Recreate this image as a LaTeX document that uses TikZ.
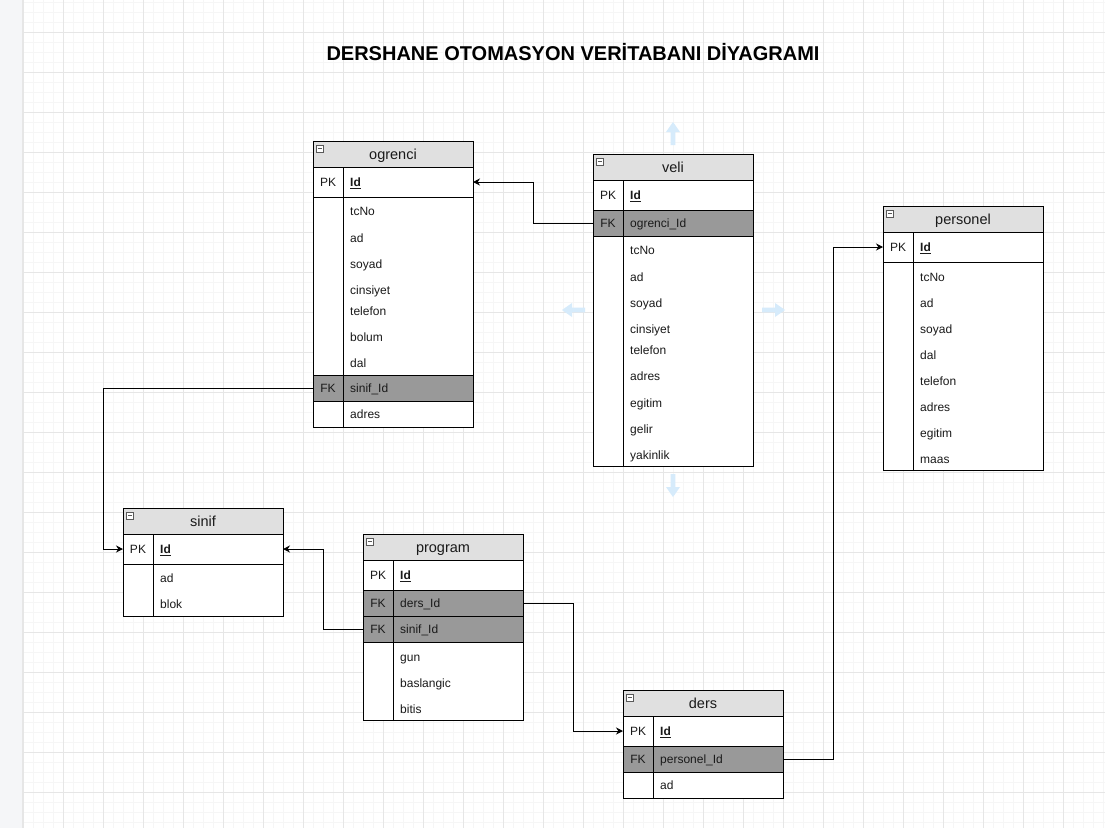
\documentclass[tikz,border=0pt]{standalone}
\usepackage{fontspec}
\setmainfont{Liberation Sans}
\usetikzlibrary{arrows.meta}
\definecolor{hdrgrey}{HTML}{E0E0E0}
\definecolor{fkgrey}{HTML}{999999}
\definecolor{gridminor}{HTML}{F6F6F6}
\definecolor{gridmajor}{HTML}{E6E6E6}
\definecolor{sidebar}{HTML}{F5F6F8}
\definecolor{ghost}{HTML}{D6EBFB}
\definecolor{txt}{HTML}{1A1A1A}
\tikzset{
  tblline/.style={draw=black, line width=1pt},
  hdrbox/.style={tblline, fill=hdrgrey, anchor=north west, minimum width=160pt, minimum height=26pt, inner sep=0pt, outer sep=0pt},
  rowbox/.style={tblline, anchor=north west, minimum width=160pt, inner sep=0pt, outer sep=0pt},
  hdrtext/.style={font=\fontsize{14.5}{16}\selectfont, text=txt, inner sep=0pt, anchor=base},
  keytext/.style={font=\fontsize{12}{14}\selectfont, text=txt, inner sep=0pt},
  fieldtext/.style={font=\fontsize{12}{14}\selectfont, text=txt, inner sep=0pt, anchor=base west},
  iconbox/.style={draw=black!65, fill=white, line width=0.6pt, minimum size=7pt, inner sep=0pt,
    path picture={\draw[line width=0.8pt] ([xshift=1.4pt]path picture bounding box.west) -- ([xshift=-1.4pt]path picture bounding box.east);}},
  conn/.style={draw=black, line width=1pt, -{Stealth[length=7pt,width=7pt]}},
  ghostarrow/.style={fill=ghost, draw=none},
  minorline/.style={draw=gridminor, line width=0.8pt},
  majorline/.style={draw=gridmajor, line width=0.8pt},
}
% name, x, y, title
\newcommand\tblHead[4]{%
  \node[hdrbox] (#1) at (#2,#3) {};
  \node[hdrtext] (#1-title) at ([yshift=-5pt]#1.center) {#4};
  \node[iconbox] (#1-icon) at (#2+7,#3+7.5) {};
}
% name, x, top, height, fill, key
\newcommand\tblRow[6]{%
  \node[rowbox, minimum height=#4pt, fill=#5] (#1) at (#2,#3) {};
  \node[keytext] (#1-key) at ([xshift=15pt]#1.west) {#6};
}
% name, x, top, height
\newcommand\tblBlock[4]{%
  \node[rowbox, minimum height=#4pt, fill=white] (#1) at (#2,#3) {};
}
% name, table x, y centre, text
\newcommand\fld[4]{%
  \node[fieldtext] (#1) at (#2+37,#3+4.3) {#4};
}
\newcommand\pkid{\underline{\textbf{Id}}}
\begin{document}
\begin{tikzpicture}[x=1pt,y=-1pt]
\useasboundingbox (0,0) rectangle (1105,828);
\fill[white] (0,0) rectangle (1105,828);
% grid
\foreach \x in {23,33,...,1103} \draw[minorline] (\x,0) -- (\x,828);
\foreach \y in {2,12,...,822} \draw[minorline] (23,\y) -- (1105,\y);
\foreach \x in {23,63,...,1063} \draw[majorline] (\x,0) -- (\x,828);
\foreach \y in {32,72,...,792} \draw[majorline] (23,\y) -- (1105,\y);
\fill[sidebar] (0,0) rectangle (22,828);
\draw[majorline] (22.5,0) -- (22.5,828);

% title
\node[font=\fontsize{20}{24}\selectfont\bfseries, text=black] (title) at (573,52.5) {DERSHANE OTOMASYON VERİTABANI DİYAGRAMI};

% ghost arrows
\fill[ghostarrow] (673,122) -- (680,132) -- (675.3,132) -- (675.3,145) -- (670.7,145) -- (670.7,132) -- (666,132) -- cycle;
\fill[ghostarrow] (673,497) -- (680,487) -- (675.3,487) -- (675.3,474) -- (670.7,474) -- (670.7,487) -- (666,487) -- cycle;
\fill[ghostarrow] (562,310) -- (572,303) -- (572,307.7) -- (585,307.7) -- (585,312.3) -- (572,312.3) -- (572,317) -- cycle;
\fill[ghostarrow] (785,310) -- (775,303) -- (775,307.7) -- (762,307.7) -- (762,312.3) -- (775,312.3) -- (775,317) -- cycle;

% ogrenci
\tblHead{ogrenci}{313}{141}{ogrenci}
\tblRow{ogrenci-pk}{313}{167}{30}{white}{PK}
\tblBlock{ogrenci-f}{313}{197}{178}
\tblRow{ogrenci-fk}{313}{375}{26}{fkgrey}{FK}
\tblBlock{ogrenci-r}{313}{401}{26}
\draw[tblline] (343,167) -- (343,427);
\fld{ogrenci-t0}{313}{182}{\pkid}
\fld{ogrenci-t1}{313}{211}{tcNo}
\fld{ogrenci-t2}{313}{238}{ad}
\fld{ogrenci-t3}{313}{264}{soyad}
\fld{ogrenci-t4}{313}{290}{cinsiyet}
\fld{ogrenci-t5}{313}{311}{telefon}
\fld{ogrenci-t6}{313}{337}{bolum}
\fld{ogrenci-t7}{313}{363}{dal}
\fld{ogrenci-t8}{313}{388}{sinif\_Id}
\fld{ogrenci-t9}{313}{414}{adres}

% veli
\tblHead{veli}{593}{154}{veli}
\tblRow{veli-pk}{593}{180}{30}{white}{PK}
\tblRow{veli-fk}{593}{210}{26}{fkgrey}{FK}
\tblBlock{veli-f}{593}{236}{230}
\draw[tblline] (623,180) -- (623,466);
\fld{veli-t0}{593}{195}{\pkid}
\fld{veli-t1}{593}{223}{ogrenci\_Id}
\fld{veli-t2}{593}{250}{tcNo}
\fld{veli-t3}{593}{277}{ad}
\fld{veli-t4}{593}{303}{soyad}
\fld{veli-t5}{593}{329}{cinsiyet}
\fld{veli-t6}{593}{350}{telefon}
\fld{veli-t7}{593}{376}{adres}
\fld{veli-t8}{593}{403}{egitim}
\fld{veli-t9}{593}{429}{gelir}
\fld{veli-t10}{593}{455}{yakinlik}

% personel
\tblHead{personel}{883}{206}{personel}
\tblRow{personel-pk}{883}{232}{30}{white}{PK}
\tblBlock{personel-f}{883}{262}{208}
\draw[tblline] (913,232) -- (913,470);
\fld{personel-t0}{883}{247}{\pkid}
\fld{personel-t1}{883}{277}{tcNo}
\fld{personel-t2}{883}{303}{ad}
\fld{personel-t3}{883}{329}{soyad}
\fld{personel-t4}{883}{355}{dal}
\fld{personel-t5}{883}{381}{telefon}
\fld{personel-t6}{883}{407}{adres}
\fld{personel-t7}{883}{433}{egitim}
\fld{personel-t8}{883}{459}{maas}

% sinif
\tblHead{sinif}{123}{508}{sinif}
\tblRow{sinif-pk}{123}{534}{30}{white}{PK}
\tblBlock{sinif-f}{123}{564}{52}
\draw[tblline] (153,534) -- (153,616);
\fld{sinif-t0}{123}{549}{\pkid}
\fld{sinif-t1}{123}{578}{ad}
\fld{sinif-t2}{123}{604}{blok}

% program
\tblHead{program}{363}{534}{program}
\tblRow{program-pk}{363}{560}{30}{white}{PK}
\tblRow{program-fk1}{363}{590}{26}{fkgrey}{FK}
\tblRow{program-fk2}{363}{616}{26}{fkgrey}{FK}
\tblBlock{program-f}{363}{642}{78}
\draw[tblline] (393,560) -- (393,720);
\fld{program-t0}{363}{575}{\pkid}
\fld{program-t1}{363}{603}{ders\_Id}
\fld{program-t2}{363}{629}{sinif\_Id}
\fld{program-t3}{363}{657}{gun}
\fld{program-t4}{363}{683}{baslangic}
\fld{program-t5}{363}{709}{bitis}

% ders
\tblHead{ders}{623}{690}{ders}
\tblRow{ders-pk}{623}{716}{30}{white}{PK}
\tblRow{ders-fk}{623}{746}{26}{fkgrey}{FK}
\tblBlock{ders-r}{623}{772}{26}
\draw[tblline] (653,716) -- (653,798);
\fld{ders-t0}{623}{731}{\pkid}
\fld{ders-t1}{623}{759}{personel\_Id}
\fld{ders-t2}{623}{785}{ad}

% connectors
\coordinate (j1) at (533,0);
\coordinate (j2) at (103,0);
\coordinate (j3) at (323,0);
\coordinate (j4) at (573,0);
\coordinate (j5) at (833,0);
\draw[conn] (veli-fk.west) -- (veli-fk.west -| j1) |- (ogrenci-pk.east);
\draw[conn] (ogrenci-fk.west) -- (ogrenci-fk.west -| j2) |- (sinif-pk.west);
\draw[conn] (program-fk2.west) -- (program-fk2.west -| j3) |- (sinif-pk.east);
\draw[conn] (program-fk1.east) -- (program-fk1.east -| j4) |- (ders-pk.west);
\draw[conn] (ders-fk.east) -- (ders-fk.east -| j5) |- (personel-pk.west);
\end{tikzpicture}
\end{document}
